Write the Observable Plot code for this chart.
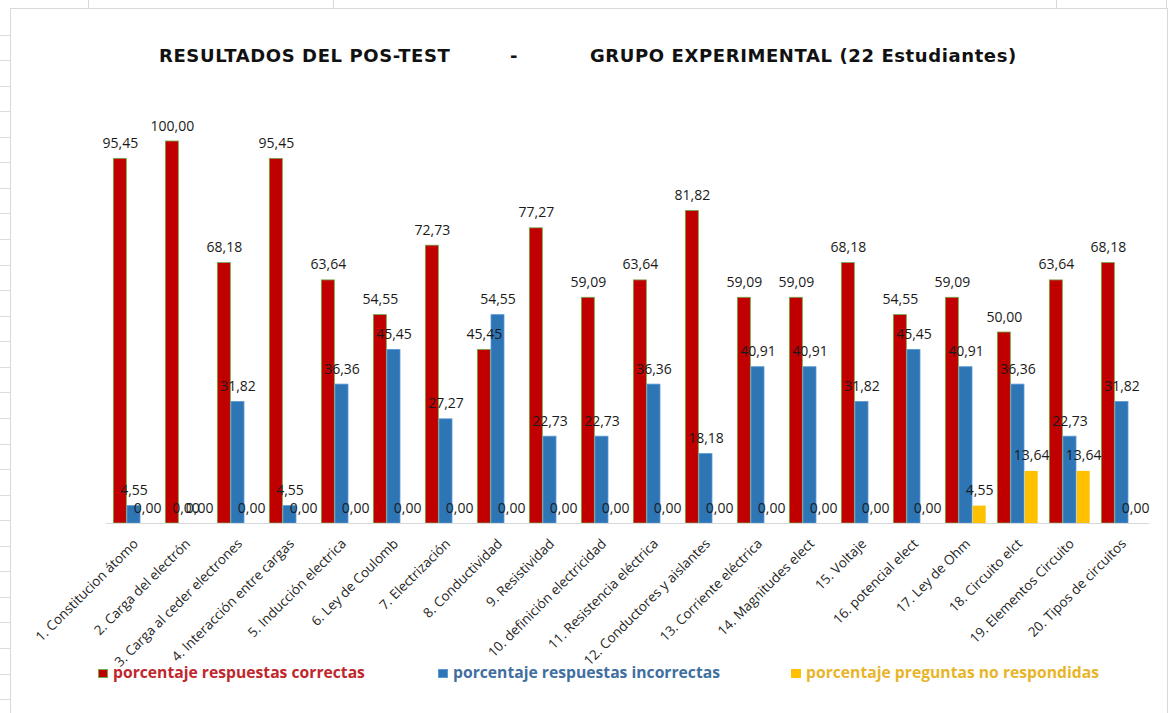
<!DOCTYPE html>
<html>
<head>
<meta charset="utf-8">
<script src="https://cdn.jsdelivr.net/npm/d3@7"></script>
<script src="https://cdn.jsdelivr.net/npm/@observablehq/plot@0.6"></script>
<style>
  html, body { margin: 0; padding: 0; background: #fff; }
  #wrap { position: relative; width: 1170px; height: 713px; overflow: hidden; background: #fff; }
  #frame { position: absolute; left: 10px; top: 8px; width: 1158px; height: 720px; border: 1px solid #d9d9d9; box-sizing: border-box; }
  #rows { position: absolute; left: 0; top: 10px; width: 10px; height: 703px;
          background: repeating-linear-gradient(to bottom, transparent 0, transparent 24.56px, #dcdcdc 24.56px, #dcdcdc 25.56px); }
  .col { position: absolute; top: 0; width: 1px; height: 8px; background: #d9d9d9; }
  .title { position: absolute; font-family: "DejaVu Sans", sans-serif; font-weight: bold; font-size: 18px; line-height: 18px; letter-spacing: 0.6px; color: #111; white-space: nowrap; }
  #chart { position: absolute; left: 0; top: 100px; }
  .leg { position: absolute; top: 663px; font-family: "Open Sans", sans-serif; font-weight: 700; font-size: 15.7px; line-height: 18px; white-space: nowrap; }
  .sw { display: inline-block; width: 10px; height: 9px; margin-right: 5px; vertical-align: 0px; box-sizing: border-box; }
</style>
</head>
<body>
<div id="wrap">
  <div id="rows"></div>
  <div class="col" style="left:88px"></div>
  <div class="col" style="left:333px"></div>
  <div class="col" style="left:1056px"></div>
  <div class="col" style="left:1166px"></div>
  <div id="frame"></div>
  <div class="title" style="left:159px; top:47px">RESULTADOS DEL POS-TEST</div>
  <div class="title" style="left:510px; top:47px">-</div>
  <div class="title" style="left:590px; top:47px">GRUPO EXPERIMENTAL (22 Estudiantes)</div>
  <div id="chart"></div>
  <div id="legend"></div>
</div>
<script>
const categories = [
  "1. Constitucion átomo", "2. Carga del electrón", "3. Carga al ceder electrones",
  "4. Interacción entre cargas", "5. Inducción electrica", "6. Ley de Coulomb",
  "7. Electrización", "8. Conductividad", "9. Resistividad",
  "10. definición electricidad", "11. Resistencia eléctrica", "12. Conductores y aislantes",
  "13. Corriente eléctrica", "14. Magnitudes elect", "15. Voltaje",
  "16. potencial elect", "17. Ley de Ohm", "18. Circuito elct",
  "19. Elementos Circuito", "20. Tipos de circuitos"
];
const seriesNames = [
  "porcentaje respuestas correctas",
  "porcentaje respuestas incorrectas",
  "porcentaje preguntas no respondidas"
];
const correctas = [95.45, 100.00, 68.18, 95.45, 63.64, 54.55, 72.73, 45.45, 77.27, 59.09,
                   63.64, 81.82, 59.09, 59.09, 68.18, 54.55, 59.09, 50.00, 63.64, 68.18];
const incorrectas = [4.55, 0.00, 31.82, 4.55, 36.36, 45.45, 27.27, 54.55, 22.73, 22.73,
                     36.36, 18.18, 40.91, 40.91, 31.82, 45.45, 40.91, 36.36, 22.73, 31.82];
const noRespondidas = [0.00, 0.00, 0.00, 0.00, 0.00, 0.00, 0.00, 0.00, 0.00, 0.00,
                       0.00, 0.00, 0.00, 0.00, 0.00, 0.00, 4.55, 13.64, 13.64, 0.00];

const fills = ["#C00000", "#2E75B6", "#FFC000"];
const strokes = ["#70AD47", "#5B9BD5", "#FFC000"];
const legendText = ["#C0272D", "#3F6FA0", "#E8B52A"];
const offsets = [-13.67, 0, 13.67];
const allValues = [correctas, incorrectas, noRespondidas];

const fmt = v => v.toFixed(2).replace(".", ",");

const rows = allValues.map((vals, s) =>
  categories.map((c, i) => ({category: c, value: vals[i], series: seriesNames[s]}))
);

const marks = [];
rows.forEach((data, s) => {
  marks.push(Plot.barY(data, {
    x: "category", y: "value", fill: fills[s], stroke: strokes[s], strokeWidth: s === 2 ? 0 : 0.8,
    dx: offsets[s]
  }));
});
marks.push(Plot.ruleY([0], {stroke: "#d9d9d9", strokeWidth: 1.2}));
rows.forEach((data, s) => {
  marks.push(Plot.text(data, {
    x: "category", y: "value", text: d => fmt(d.value), dx: offsets[s], dy: -11,
    lineAnchor: "bottom", fill: "#1a1a1a", fontSize: 14, fontFamily: "Open Sans"
  }));
});
marks.push(Plot.text(categories, {
  x: d => d, y: () => 0, text: d => d, rotate: -45, textAnchor: "end", lineAnchor: "middle",
  dx: 2, dy: 18, fill: "#262626", fontSize: 13.5, fontFamily: "Open Sans"
}));

const chart = Plot.plot({
  width: 1170, height: 555,
  marginLeft: 106, marginRight: 20.8, marginTop: 41, marginBottom: 132,
  x: {domain: categories, paddingInner: 0.747, paddingOuter: 0.3735, axis: null},
  y: {domain: [0, 100], axis: null},
  style: {background: "transparent", overflow: "visible"},
  marks
});
document.getElementById("chart").appendChild(chart);

const legendLeft = [98, 438, 791];
const legend = document.getElementById("legend");
seriesNames.forEach((name, s) => {
  const d = document.createElement("div");
  d.className = "leg";
  d.style.left = legendLeft[s] + "px";
  d.style.color = legendText[s];
  const sw = document.createElement("span");
  sw.className = "sw";
  sw.style.background = fills[s];
  sw.style.border = s === 2 ? "none" : "1px solid " + strokes[s];
  d.appendChild(sw);
  d.appendChild(document.createTextNode(name));
  legend.appendChild(d);
});
</script>
</body>
</html>
